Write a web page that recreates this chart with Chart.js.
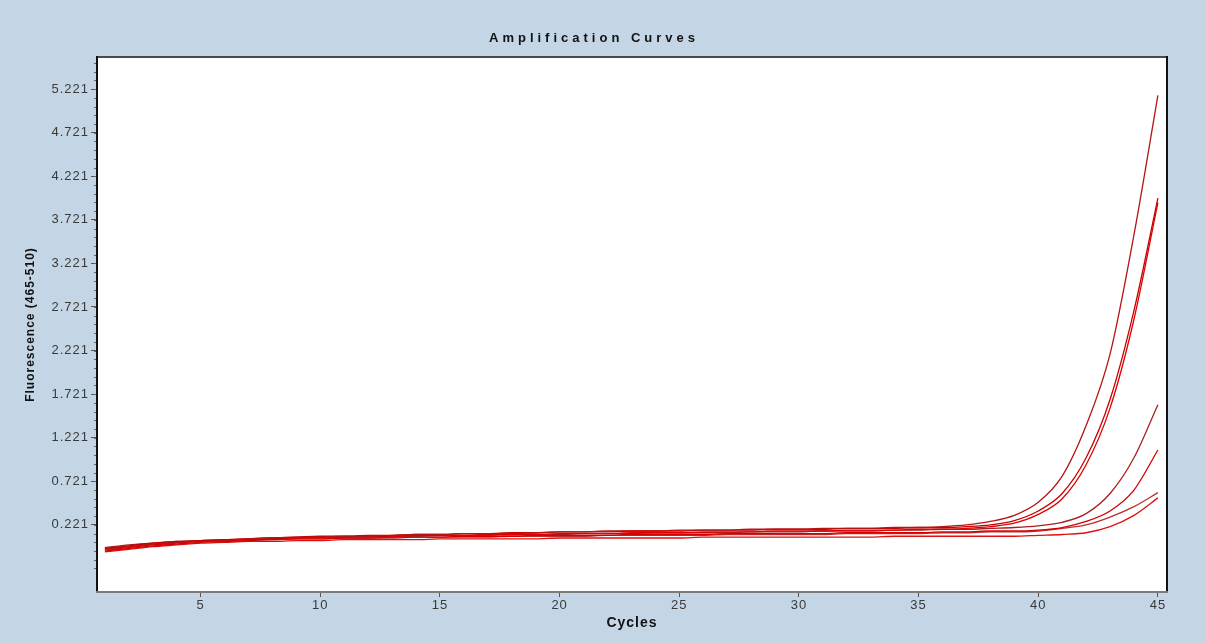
<!DOCTYPE html>
<html>
<head>
<meta charset="utf-8">
<title>Amplification Curves</title>
<script src="https://cdn.jsdelivr.net/npm/chart.js@4.4.1/dist/chart.umd.min.js"></script>
<style>
  html, body { margin: 0; padding: 0; background: #c4d5e5; }
  #wrap { width: 1206px; height: 643px; position: relative; }
  canvas { display: block; }
</style>
</head>
<body>
<div id="wrap"><canvas id="chart" width="1206" height="643"></canvas></div>
<script>
// Cycle numbers
const cycles = [1,2,3,4,5,6,7,8,9,10,11,12,13,14,15,16,17,18,19,20,21,22,23,24,25,26,27,28,29,30,31,32,33,34,35,36,37,38,39,40,41,42,43,44,45];

// Fluorescence (465-510) per sample, one value per cycle
const sampleA = [-0.06,-0.03,0.00,0.02,0.03,0.04,0.06,0.07,0.08,0.08,
                 0.09,0.09,0.10,0.11,0.11,0.12,0.12,0.12,0.13,0.14,
                 0.14,0.15,0.15,0.15,0.16,0.16,0.16,0.17,0.17,0.17,
                 0.18,0.18,0.18,0.19,0.19,0.20,0.22,0.26,0.33,0.48,
                 0.78,1.36,2.18,3.55,5.15];
const sampleB = [-0.05,-0.02,0.01,0.03,0.04,0.05,0.06,0.07,0.08,0.09,
                 0.09,0.10,0.10,0.11,0.11,0.12,0.12,0.13,0.13,0.14,
                 0.14,0.14,0.15,0.15,0.15,0.16,0.16,0.16,0.17,0.17,
                 0.17,0.18,0.18,0.18,0.19,0.19,0.20,0.22,0.27,0.38,
                 0.58,0.99,1.66,2.68,3.97];
const sampleC = [-0.07,-0.04,-0.01,0.01,0.03,0.04,0.05,0.06,0.07,0.08,
                 0.08,0.09,0.09,0.10,0.10,0.10,0.11,0.11,0.11,0.12,
                 0.12,0.12,0.13,0.13,0.13,0.14,0.14,0.14,0.15,0.15,
                 0.15,0.16,0.16,0.16,0.17,0.17,0.18,0.20,0.24,0.34,
                 0.52,0.91,1.56,2.58,3.92];
const sampleD = [-0.04,-0.01,0.01,0.03,0.04,0.05,0.06,0.07,0.07,0.08,
                 0.08,0.09,0.09,0.09,0.10,0.10,0.10,0.11,0.11,0.11,
                 0.12,0.12,0.12,0.13,0.13,0.13,0.13,0.14,0.14,0.14,
                 0.15,0.15,0.15,0.16,0.16,0.17,0.17,0.18,0.19,0.21,
                 0.25,0.35,0.58,0.99,1.60];
const sampleE = [-0.08,-0.05,-0.02,0.00,0.02,0.03,0.04,0.05,0.06,0.06,
                 0.07,0.07,0.08,0.08,0.08,0.09,0.09,0.09,0.10,0.10,
                 0.10,0.10,0.11,0.11,0.11,0.11,0.12,0.12,0.12,0.12,
                 0.12,0.13,0.13,0.13,0.13,0.14,0.14,0.15,0.15,0.16,
                 0.19,0.26,0.38,0.62,1.08];
const sampleF = [-0.05,-0.03,0.00,0.02,0.03,0.04,0.05,0.05,0.06,0.06,
                 0.07,0.07,0.07,0.08,0.08,0.08,0.08,0.09,0.09,0.09,
                 0.09,0.10,0.10,0.10,0.10,0.10,0.11,0.11,0.11,0.11,
                 0.11,0.12,0.12,0.12,0.12,0.13,0.13,0.14,0.14,0.15,
                 0.18,0.22,0.31,0.43,0.59];
const sampleG = [-0.09,-0.06,-0.03,-0.01,0.01,0.02,0.03,0.03,0.04,0.04,
                 0.05,0.05,0.05,0.05,0.06,0.06,0.06,0.06,0.06,0.07,
                 0.07,0.07,0.07,0.07,0.07,0.08,0.08,0.08,0.08,0.08,
                 0.08,0.08,0.08,0.09,0.09,0.09,0.09,0.09,0.09,0.10,
                 0.11,0.13,0.20,0.33,0.53];

// Axis tick values
const yTickValues = [0.221,0.721,1.221,1.721,2.221,2.721,3.221,3.721,4.221,4.721,5.221];
const xTickValues = [5,10,15,20,25,30,35,40,45];

const samples = [sampleA, sampleB, sampleC, sampleD, sampleE, sampleF, sampleG];
const lineColors = ['#b41414', '#c80000', '#e00000', '#a82020', '#d40000', '#b83030', '#e01010'];

const FONT = 'Liberation Sans, Arial, sans-serif';

// Wider letter spacing for axis text; plot lines drawn without it
const spacingPlugin = {
  id: 'spacing',
  beforeDraw(chart) { chart.ctx.letterSpacing = '1px'; },
  beforeDatasetsDraw(chart) { chart.ctx.letterSpacing = '0px'; }
};

// White plotting area
const areaPlugin = {
  id: 'area',
  beforeDraw(chart) {
    const { ctx, chartArea: a } = chart;
    ctx.save();
    ctx.fillStyle = '#ffffff';
    ctx.fillRect(a.left, a.top, a.right - a.left, a.bottom - a.top);
    ctx.restore();
  }
};

// Plot frame, minor tick marks and the letter-spaced heading
const framePlugin = {
  id: 'frame',
  afterDraw(chart) {
    const { ctx, chartArea: a, scales } = chart;
    ctx.save();
    ctx.strokeStyle = '#666';
    ctx.lineWidth = 1;
    const y = scales.y;
    for (let v = yTickValues[0] - 0.5; v <= y.max; v += 0.1) {
      const py = Math.round(y.getPixelForValue(v)) + 0.5;
      if (py < a.top || py > a.bottom) continue;
      ctx.beginPath();
      ctx.moveTo(a.left - 3, py);
      ctx.lineTo(a.left, py);
      ctx.stroke();
    }
    ctx.lineWidth = 2;
    ctx.strokeStyle = '#4a4a4a';
    ctx.beginPath(); ctx.moveTo(a.left, a.top); ctx.lineTo(a.right, a.top); ctx.stroke();
    ctx.strokeStyle = '#111';
    ctx.beginPath(); ctx.moveTo(a.left, a.top - 1); ctx.lineTo(a.left, a.bottom); ctx.stroke();
    ctx.beginPath(); ctx.moveTo(a.right, a.top - 1); ctx.lineTo(a.right, a.bottom + 1); ctx.stroke();
    ctx.strokeStyle = '#7a7a7a';
    ctx.beginPath(); ctx.moveTo(a.left - 1, a.bottom); ctx.lineTo(a.right + 1, a.bottom); ctx.stroke();
    ctx.fillStyle = '#111';
    ctx.font = 'bold 13px ' + FONT;
    ctx.letterSpacing = '4px';
    ctx.textAlign = 'center';
    ctx.textBaseline = 'middle';
    ctx.fillText('Amplification Curves', 594, 38);
    ctx.restore();
  }
};

new Chart(document.getElementById('chart'), {
  type: 'line',
  data: {
    datasets: samples.map((s, i) => ({
      label: 'Sample ' + (i + 1),
      data: s.map((v, k) => ({ x: cycles[k], y: v })),
      borderColor: lineColors[i],
      borderWidth: 1.3,
      pointRadius: 0,
      fill: false,
      cubicInterpolationMode: 'monotone'
    }))
  },
  options: {
    responsive: false,
    animation: false,
    devicePixelRatio: 1,
    layout: { padding: { top: 57, right: 39, left: 0, bottom: 0 } },
    plugins: {
      legend: { display: false },
      title: { display: false },
      tooltip: { enabled: false }
    },
    scales: {
      x: {
        type: 'linear',
        min: 0.67,
        max: 45.38,
        afterBuildTicks(scale) { scale.ticks = xTickValues.map(v => ({ value: v })); },
        afterFit(scale) { scale.height = 51; },
        grid: { display: true, drawOnChartArea: false, drawTicks: true, tickLength: 5, color: '#555' },
        border: { display: false },
        ticks: { color: '#3a3a3a', font: { family: FONT, size: 13 }, padding: 1, maxRotation: 0, autoSkip: false },
        title: { display: true, text: 'Cycles', color: '#111', font: { family: FONT, size: 14, weight: 'bold' }, padding: { top: 0, bottom: 11 } }
      },
      y: {
        type: 'linear',
        min: -0.55,
        max: 5.59,
        afterBuildTicks(scale) { scale.ticks = yTickValues.map(v => ({ value: v })); },
        afterFit(scale) { scale.width = 97; },
        grid: { display: true, drawOnChartArea: false, drawTicks: true, tickLength: 6, color: '#555' },
        border: { display: false },
        ticks: {
          color: '#3a3a3a',
          font: { family: FONT, size: 13 },
          padding: 2,
          autoSkip: false,
          callback: v => v.toFixed(3)
        },
        title: { display: true, text: 'Fluorescence (465-510)', color: '#111', font: { family: FONT, size: 12, weight: 'bold' }, padding: { top: 23, bottom: 0 } }
      }
    }
  },
  plugins: [spacingPlugin, areaPlugin, framePlugin]
});
</script>
</body>
</html>
